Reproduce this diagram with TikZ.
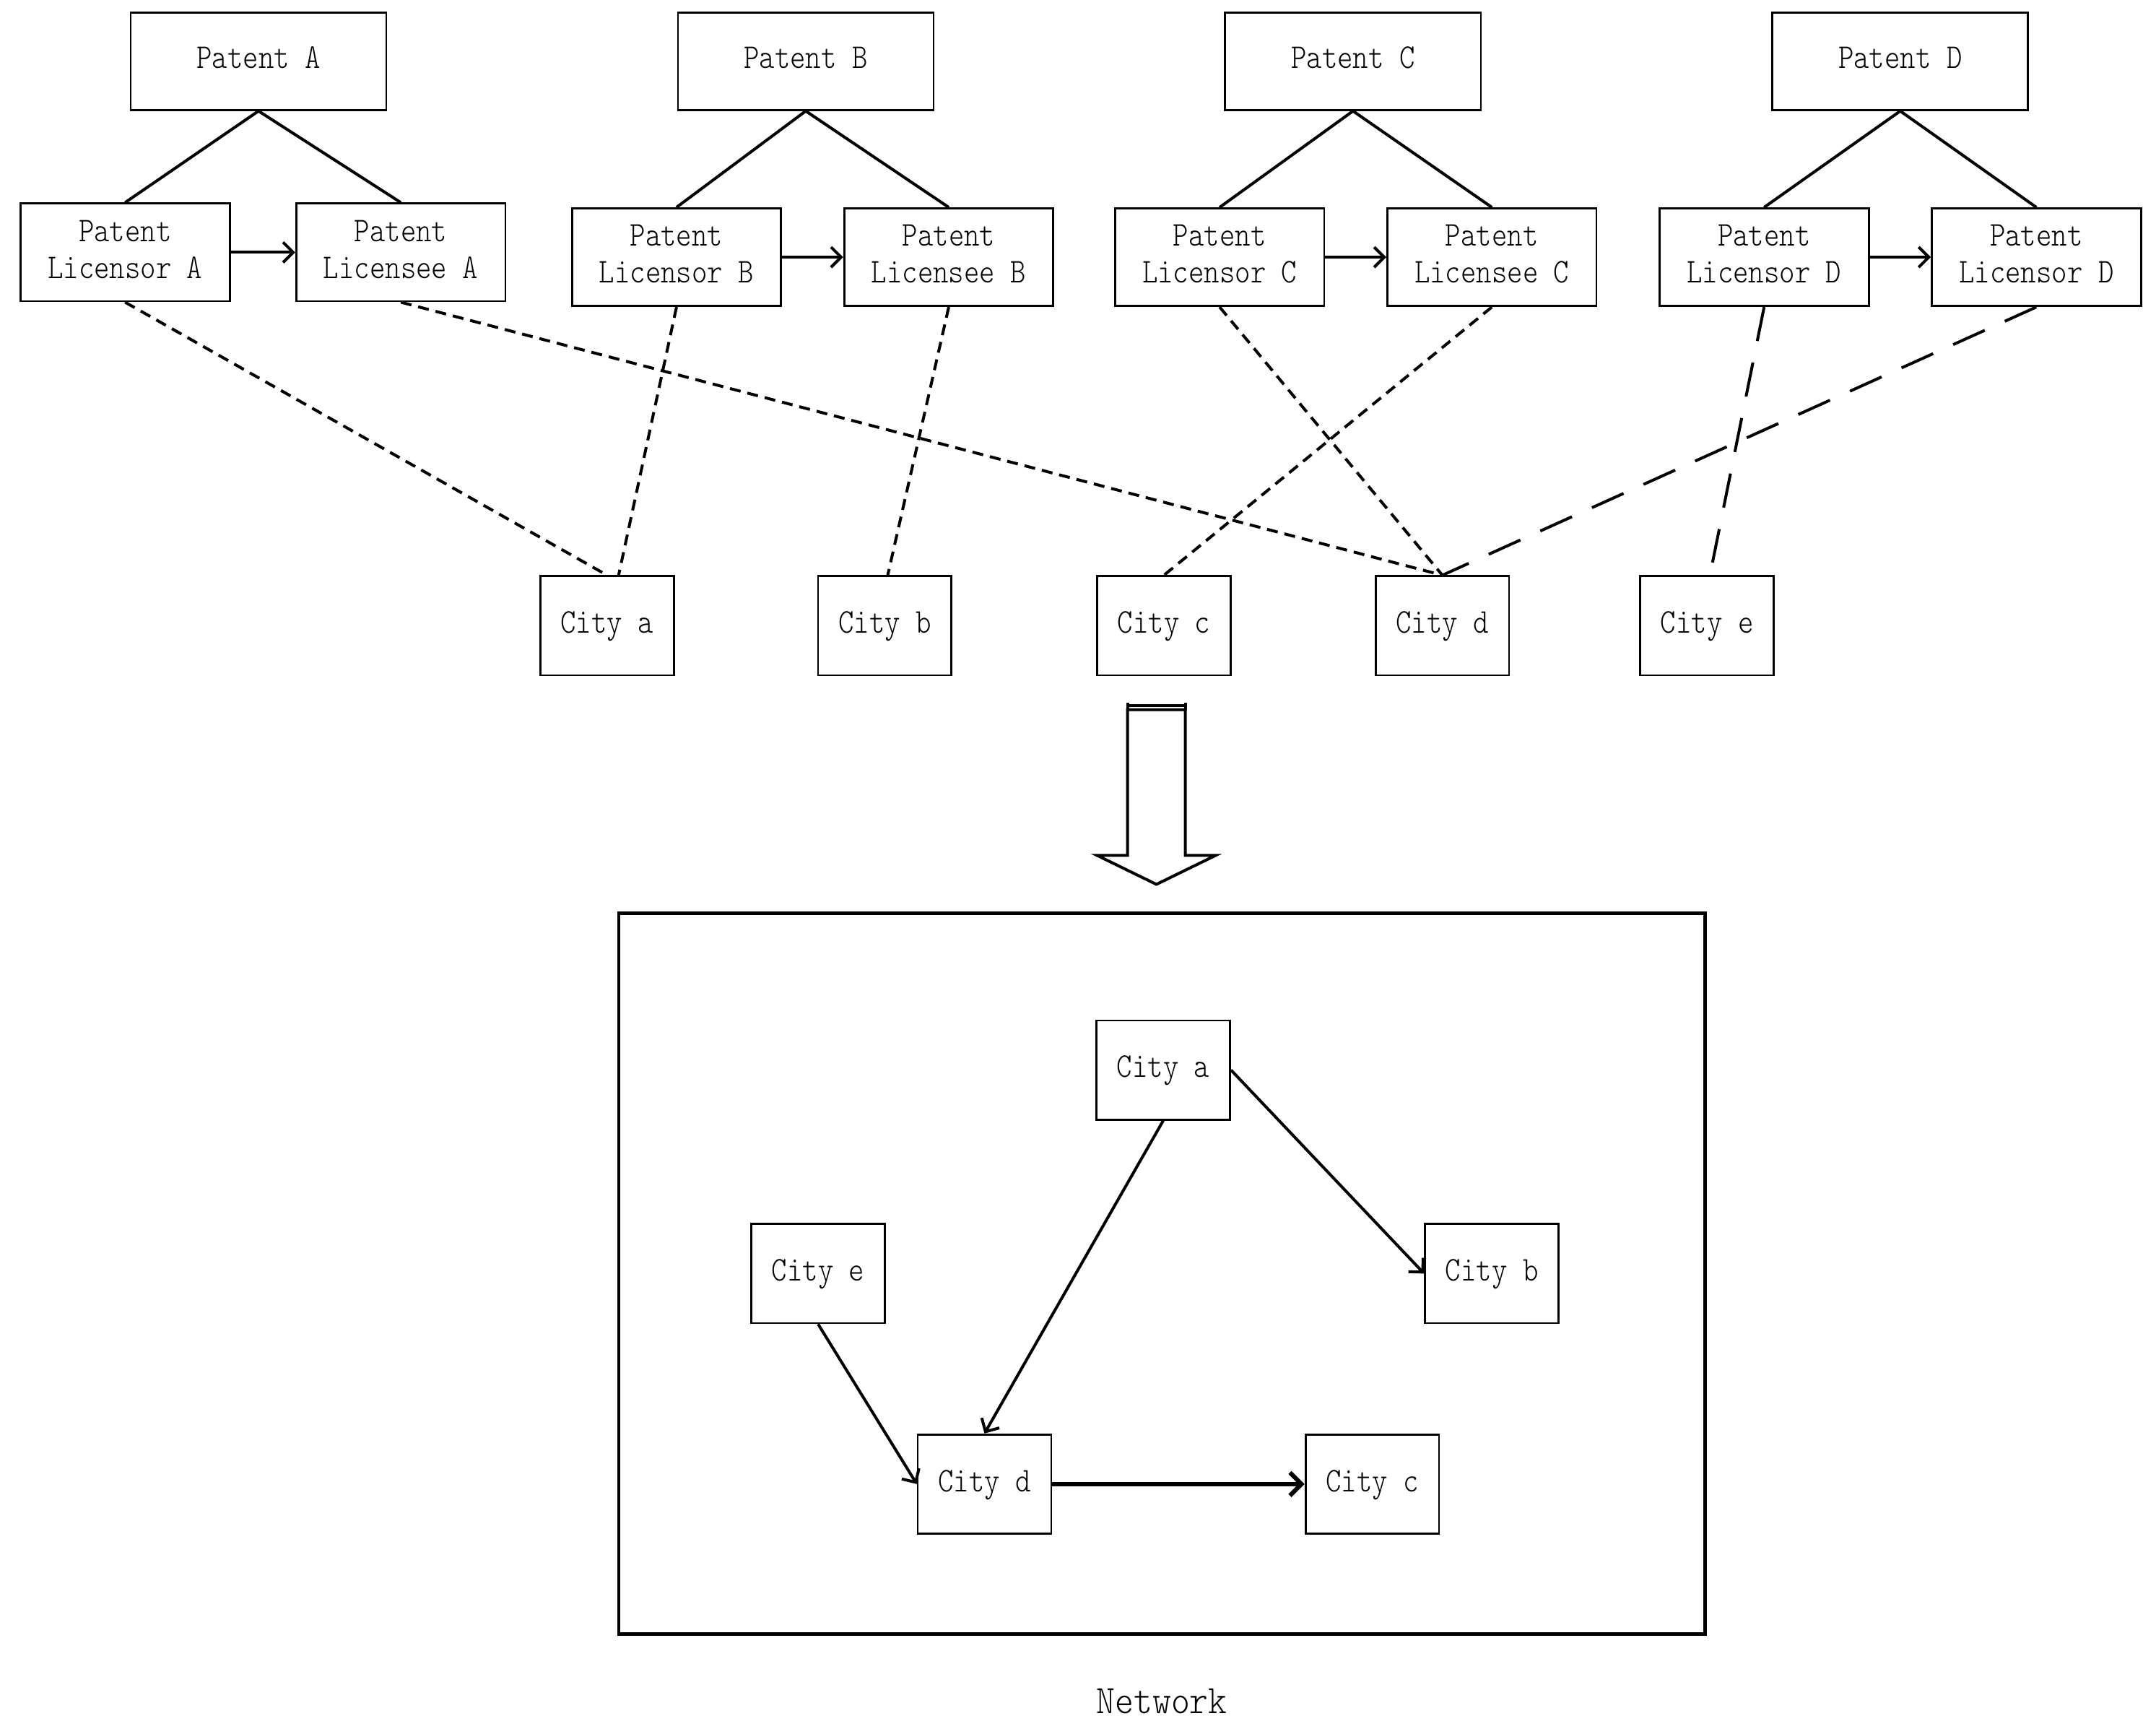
\documentclass[tikz,border=0pt]{standalone}
\usepackage{graphicx}
\usetikzlibrary{arrows.meta}
\newcommand\boxtxt[1]{\scalebox{0.85}[1]{\begin{tabular}{@{}c@{}}#1\end{tabular}}}
\newcommand\lblfont{\ttfamily\fontseries{l}\fontsize{12}{12.8}\selectfont}
\tikzset{
  box/.style={draw, line width=0.7pt, inner sep=0pt, font=\lblfont, align=center, fill=white},
  pbox/.style={box, minimum width=88.5pt, minimum height=33.8pt},
  lbox/.style={box, minimum width=72.4pt, minimum height=33.8pt},
  cbox/.style={box, minimum width=46.2pt, minimum height=34.3pt},
  conn/.style={line width=1pt},
  dsh/.style={line width=1pt, dash pattern=on 3.8pt off 2.4pt},
  longdsh/.style={line width=1pt, dash pattern=on 12pt off 7.6pt},
  arr/.style={line width=1pt, -{Straight Barb[length=3.5pt,width=7pt]}},
  bigarr/.style={line width=1.5pt, -{Straight Barb[length=4pt,width=8pt]}},
}
\begin{document}
\begin{tikzpicture}[x=0.476pt, y=-0.476pt]
\useasboundingbox (0,0) rectangle (1568,1257);

% patents
\node[pbox] (PA) at (188,44.5) {\boxtxt{Patent A}};
\node[pbox] (PB) at (586,44.5) {\boxtxt{Patent B}};
\node[pbox] (PC) at (984,44.5) {\boxtxt{Patent C}};
\node[pbox] (PD) at (1382,44.5) {\boxtxt{Patent D}};

% licensors / licensees
\node[lbox] (LA) at (91,183.5) {\boxtxt{Patent\\Licensor A}};
\node[lbox] (EA) at (291.5,183.5) {\boxtxt{Patent\\Licensee A}};
\node[lbox] (LB) at (492,187) {\boxtxt{Patent\\Licensor B}};
\node[lbox] (EB) at (690,187) {\boxtxt{Patent\\Licensee B}};
\node[lbox] (LC) at (887,187) {\boxtxt{Patent\\Licensor C}};
\node[lbox] (EC) at (1085,187) {\boxtxt{Patent\\Licensee C}};
\node[lbox] (LD) at (1283,187) {\boxtxt{Patent\\Licensor D}};
\node[lbox] (ED) at (1481,187) {\boxtxt{Patent\\Licensor D}};

% cities top row
\node[cbox] (ca) at (441.5,455) {\boxtxt{City a}};
\node[cbox] (cb) at (643.5,455) {\boxtxt{City b}};
\node[cbox] (cc) at (846.5,455) {\boxtxt{City c}};
\node[cbox] (cd) at (1049,455) {\boxtxt{City d}};
\node[cbox] (ce) at (1241.5,455) {\boxtxt{City e}};

% solid tree lines
\foreach \p/\l/\e in {PA/LA/EA, PB/LB/EB, PC/LC/EC, PD/LD/ED}{
  \draw[conn] (\p.south) -- (\l.north);
  \draw[conn] (\p.south) -- (\e.north);
  \draw[arr] (\l.east) -- (\e.west);
}

% dashed links
\draw[dsh] (LA.south) -- (ca.north);
\draw[dsh] (EA.south) -- (cd.north);
\draw[dsh] (LB.south) -- ([xshift=4pt]ca.north);
\draw[dsh] (EB.south) -- ([xshift=1pt]cb.north);
\draw[dsh] (LC.south) -- (cd.north);
\draw[dsh] (EC.south) -- (cc.north);
\draw[longdsh, shorten >=4.5pt] (LD.south) -- ([xshift=1pt]ce.north);
\draw[longdsh] (ED.south) -- (cd.north);

% big down arrow
\draw[line width=1pt, line join=miter]
  (820,516) -- (820,622) -- (798,622) -- (841,643) -- (884,622) -- (862,622) -- (862,516) -- cycle;
\draw[line width=1pt] (820,511) -- (820,516) (862,511) -- (862,516) (820,513) -- (862,513);

% network frame
\draw[line width=1.1pt] (450,664) rectangle (1240,1188);

% network cities
\node[cbox] (na) at (846,778) {\boxtxt{City a}};
\node[cbox] (ne) at (595,926) {\boxtxt{City e}};
\node[cbox] (nb) at (1085,926) {\boxtxt{City b}};
\node[cbox] (nd) at (716,1079) {\boxtxt{City d}};
\node[cbox] (nc) at (998,1079) {\boxtxt{City c}};

\draw[arr] (na.south) -- (nd.north);
\draw[arr] (na.east) -- (nb.west);
\draw[arr] (ne.south) -- (nd.west);
\draw[bigarr] (nd.east) -- (nc.west);

\node[font=\ttfamily\fontseries{l}\fontsize{14}{16}\selectfont] (net) at (845,1237) {\scalebox{0.88}[1]{Network}};
\end{tikzpicture}
\end{document}
